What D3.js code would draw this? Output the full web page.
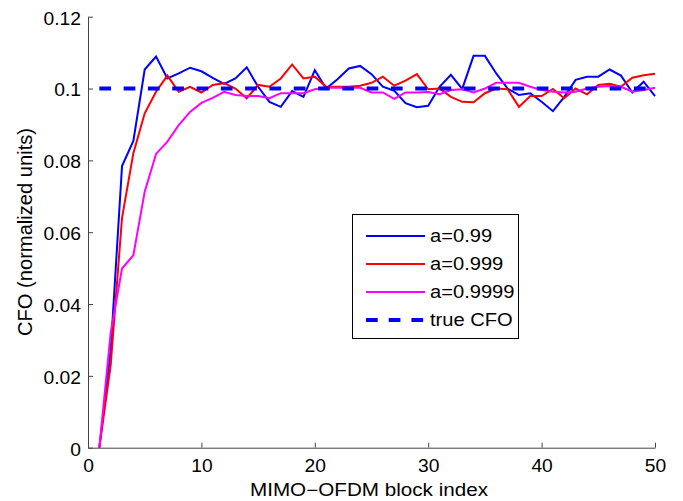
<!DOCTYPE html>
<html><head><meta charset="utf-8">
<script src="https://cdn.jsdelivr.net/npm/d3@7"></script>
<style>body{margin:0;background:#fff}svg{display:block}text{font-family:"Liberation Sans",Arial,sans-serif}</style>
</head><body>
<svg id="c" width="683" height="501"></svg>
<script>
const blockIndex = d3.range(1, 51);
const a099 = [0,0.027,0.0784,0.0854,0.1053,0.1089,0.1028,0.1042,0.1058,0.1048,
  0.1030,0.1013,0.1028,0.1059,0.1005,0.0963,0.0949,0.0993,0.0977,0.1051,
  0.1000,0.1026,0.1056,0.1063,0.1040,0.1005,0.0994,0.0959,0.0948,0.0952,
  0.1005,0.1038,0.0999,0.1091,0.1091,0.1042,0.1000,0.0982,0.0987,0.0963,
  0.0937,0.0977,0.1024,0.1033,0.1033,0.1053,0.1036,0.0989,0.1019,0.0979];
const a0999 = [0,0.023,0.064,0.0820,0.0931,0.0991,0.1036,0.0991,0.1005,0.0989,
  0.1010,0.1015,0.1000,0.0973,0.1010,0.1005,0.1028,0.1067,0.1028,0.1033,
  0.1005,0.1005,0.1005,0.1008,0.1016,0.1033,0.1008,0.1022,0.1040,0.0998,
  0.1000,0.0977,0.0963,0.0962,0.0987,0.1000,0.0998,0.0949,0.0979,0.0979,
  0.0999,0.0973,0.1000,0.0984,0.1010,0.1013,0.1005,0.1030,0.1037,0.1041];
const a09999 = [0,0.032,0.0499,0.0536,0.0713,0.0818,0.0852,0.0898,0.0935,0.0960,
  0.0974,0.0991,0.0982,0.0979,0.0979,0.0973,0.0987,0.0987,0.0987,0.0998,
  0.1002,0.1002,0.1002,0.1002,0.0989,0.0989,0.0971,0.0989,0.0989,0.0990,
  0.0984,0.0996,0.0998,0.0989,0.1000,0.1016,0.1016,0.1016,0.1005,0.0996,
  0.0991,0.0989,0.0991,0.1000,0.1005,0.1007,0.1005,0.0991,0.0996,0.1002];
const trueCFO = blockIndex.map(() => 0.1);
const xTicks = [0,10,20,30,40,50];
const yTicks = [0,0.02,0.04,0.06,0.08,0.1,0.12];
const yTickLabels = ["0","0.02","0.04","0.06","0.08","0.1","0.12"];
const seriesNames = ["a=0.99","a=0.999","a=0.9999","true CFO"];
const seriesColors = ["#0000ff","#ff0000","#ff00ff","#0000ff"];

const FONT = '"Liberation Sans",Arial,sans-serif';
const FS = 17.5;
const svg = d3.select("#c");
const x = d3.scaleLinear().domain([0,50]).range([88,655]);
const y = d3.scaleLinear().domain([0,0.12]).range([447.7,16.7]);

// widen glyphs horizontally (reference rendering is wider than Arial)
function widen(sel, k){
  sel.each(function(){
    const len = this.getComputedTextLength();
    d3.select(this).attr("textLength", len*k).attr("lengthAdjust","spacingAndGlyphs");
  });
}

const series = [
  {name: seriesNames[0], vals: a099, color: seriesColors[0], w: 2, dash: null},
  {name: seriesNames[1], vals: a0999, color: seriesColors[1], w: 2, dash: null},
  {name: seriesNames[2], vals: a09999, color: seriesColors[2], w: 2, dash: null},
  {name: seriesNames[3], vals: trueCFO, color: seriesColors[3], w: 4, dash: "11.7,12.6"}
];
const line = d3.line().x((d,i)=>x(blockIndex[i])).y(d=>y(d));
series.forEach(s=>{
  svg.append("path").attr("d", line(s.vals)).attr("fill","none")
    .attr("stroke", s.color).attr("stroke-width", s.w)
    .attr("stroke-dasharray", s.dash).attr("stroke-linejoin","miter");
});

// axes
const xAxis = d3.axisBottom(x).tickValues(xTicks).tickSize(-5).tickSizeOuter(0);
const yAxis = d3.axisLeft(y).tickValues(yTicks).tickFormat((d,i)=>yTickLabels[i]).tickSize(-5).tickSizeOuter(0);
const gx = svg.append("g").attr("transform","translate(0,447.7)").call(xAxis);
const gy = svg.append("g").attr("transform","translate(88,0)").call(yAxis);
[gx,gy].forEach(g=>{
  g.selectAll("path,line").attr("stroke","#444").attr("stroke-width",1);
  g.selectAll("text").attr("font-size",FS).attr("fill","#000").attr("font-family",FONT);
});
gx.selectAll("text").attr("y",24.5).attr("dy",0);
gy.selectAll("text").attr("x",-7).attr("dy",7.3);
widen(gx.selectAll("text"), 1.1);
widen(gy.selectAll("text"), 1.1);

const xl = svg.append("text").attr("x",369).attr("y",495.7).attr("text-anchor","middle")
  .attr("font-size",FS).text("MIMO\u2212OFDM block index")
  .attr("textLength",238).attr("lengthAdjust","spacingAndGlyphs");
svg.append("text").attr("transform","translate(31.5,232) scale(1.2,1) rotate(-90)").attr("text-anchor","middle")
  .attr("font-size",FS).text("CFO (normalized units)")
  .attr("textLength",208).attr("lengthAdjust","spacingAndGlyphs");

// legend
const lg = svg.append("g");
lg.append("rect").attr("x",352.5).attr("y",214.5).attr("width",166).attr("height",124)
  .attr("fill","#fff").attr("stroke","#000").attr("stroke-width",1);
series.forEach((s,i)=>{
  const yy = 236 + i*28;
  lg.append("line").attr("x1",366).attr("x2",425).attr("y1",yy).attr("y2",yy)
    .attr("stroke",s.color).attr("stroke-width",s.dash?4:2).attr("stroke-dasharray",s.dash?"11.7,11":null);
  const t = lg.append("text").attr("x",430).attr("y",yy+6).attr("font-size",FS).text(s.name);
  widen(t, 1.15);
});
</script>
</body></html>
